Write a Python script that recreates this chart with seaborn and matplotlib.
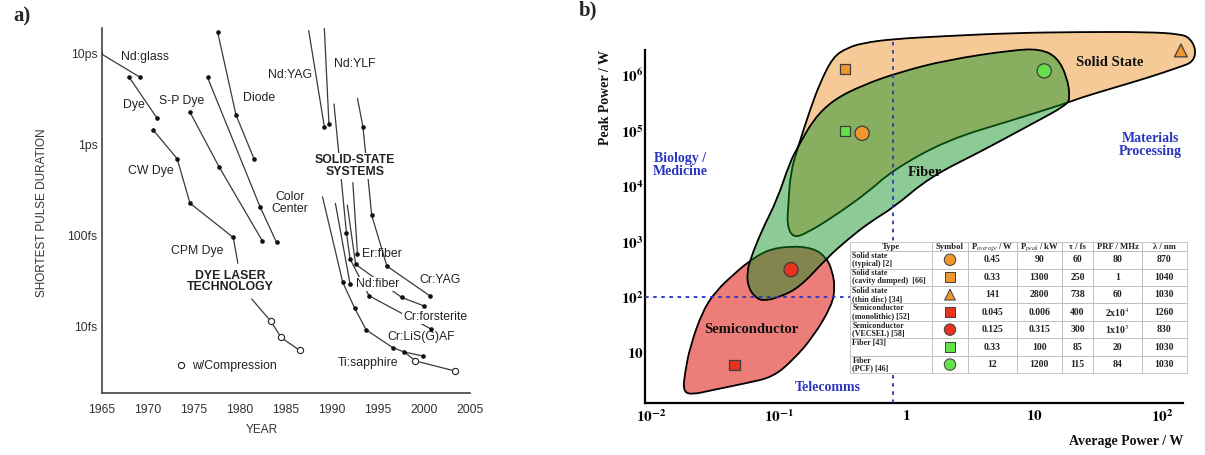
import numpy as np
import pandas as pd
import seaborn as sns
import matplotlib.pyplot as plt
from matplotlib.path import Path
from matplotlib.patches import PathPatch
from matplotlib.lines import Line2D
from matplotlib.ticker import NullLocator

# ==============================
# ==== Data: panel a) lines ====
# ==============================
# (year, shortest pulse duration in fs)
nd_glass = [(1964.8, 10000), (1969.2, 5400)]
dye = [(1968.0, 5400), (1971.0, 1940)]
cw_dye = [(1970.6, 1430), (1973.2, 693), (1974.6, 225), (1979.3, 95), (1979.8, 49.5)]
sp_dye = [(1974.6, 2240), (1977.75, 566), (1982.45, 87.5)]
color_center = [(1976.5, 5400), (1982.2, 207), (1984.0, 84)]
diode = [(1977.6, 17000), (1979.6, 2090), (1981.55, 693)]
nd_yag = [(1987.5, 17600), (1989.2, 1556)]
nd_ylf = [(1989.2, 18700), (1989.7, 1663)]
cr_lisaf = [(1990.25, 2760), (1991.6, 107), (1992.0, 55), (1994.05, 21.8), (2000.8, 9.4)]
cr_yag = [(1992.8, 3180), (1993.4, 1546), (1994.35, 166), (1996.0, 46.1), (2000.65, 21.8)]
ti_sapphire = [(1989.0, 265), (1991.2, 30.6), (1992.5, 15.9), (1993.75, 9.2),
               (1996.65, 5.87), (1997.9, 5.26), (1999.9, 4.76)]
nd_fiber = [(1990.4, 225), (1992.0, 29.1)]
er_fiber = [(1992.3, 378), (1992.8, 62.5)]
cr_forsterite = [(1991.7, 215), (1992.6, 48.2), (1997.6, 20.9), (2000.0, 16.9)]
dye_compressed = [(1981.3, 20.1), (1983.4, 11.4), (1984.5, 7.6), (1986.5, 5.5)]
ti_compressed = [(1997.9, 5.26), (1999.1, 4.2), (2003.4, 3.26)]

LINES = {
    "Nd:glass": nd_glass, "Dye": dye, "CW Dye": cw_dye, "S-P Dye": sp_dye,
    "Color Center": color_center, "Diode": diode, "Nd:YAG": nd_yag, "Nd:YLF": nd_ylf,
    "Cr:LiSAF": cr_lisaf, "Cr:YAG": cr_yag, "Ti:sapphire": ti_sapphire,
    "Nd:fiber": nd_fiber, "Er:fiber": er_fiber, "Cr:forsterite": cr_forsterite,
    "Dye compressed": dye_compressed, "Ti compressed": ti_compressed,
}
# points drawn without a dot / with an open circle
BARE = {"Nd:YAG": [0], "Nd:YLF": [0], "Cr:LiSAF": [0], "Cr:YAG": [0], "Ti:sapphire": [0],
        "Nd:fiber": [0], "Er:fiber": [0], "Cr:forsterite": [0], "CW Dye": [4],
        "Dye compressed": [0], "Ti compressed": [0]}
OPEN = {"Dye compressed": [1, 2, 3], "Ti compressed": [1, 2]}

YEAR_TICKS = [1965, 1970, 1975, 1980, 1985, 1990, 1995, 2000, 2005]
DUR_TICKS = [10, 100, 1000, 10000]
DUR_LABELS = ["10fs", "100fs", "1ps", "10ps"]

# ==============================
# ==== Data: panel b) table ====
# ==============================
SOURCE_TYPE = ["Solid state\n(typical) [2]", "Solid state\n(cavity dumped)  [66]",
               "Solid state\n(thin disc) [34]", "Semiconductor\n(monolithic) [52]",
               "Semiconductor\n(VECSEL) [58]", "Fiber [43]\n", "Fiber\n(PCF) [46]"]
P_AVG_W = [0.45, 0.33, 141, 0.045, 0.125, 0.33, 12]
P_PEAK_KW = [90, 1300, 2800, 0.006, 0.315, 100, 1200]
TAU_FS = [60, 250, 738, 400, 300, 85, 115]
PRF_MHZ = ["80", "1", "60", "2x10$^4$", "1x10$^3$", "20", "84"]
WAVELENGTH_NM = [870, 1040, 1030, 1260, 830, 1030, 1030]
SYMBOL_COLOR = ["orange", "orange", "orange", "red", "red", "green", "green"]
SYMBOL_SHAPE = ["o", "s", "^", "s", "o", "s", "o"]
HEADER = ["Type", "Symbol", "P$_{average}$ / W", "P$_{peak}$ / kW", "τ / fs", "PRF / MHz", "λ / nm"]

# region outlines, log10(average power / W), log10(peak power / W)
SOLID_STATE_OUTLINE = [(-0.849, 4.708), (-0.755, 5.375), (-0.677, 5.861), (-0.575, 6.330),
                       (-0.465, 6.492), (-0.340, 6.582), (-0.105, 6.654), (0.318, 6.708),
                       (0.835, 6.762), (1.359, 6.780), (1.884, 6.780), (2.142, 6.744),
                       (2.221, 6.672), (2.268, 6.456), (2.245, 6.240), (2.142, 6.150),
                       (1.884, 5.951), (1.618, 5.771), (1.359, 5.591), (1.258, 5.501),
                       (0.835, 5.195), (0.318, 4.834), (-0.105, 4.294), (-0.309, 3.879),
                       (-0.575, 3.447), (-0.778, 3.159), (-0.888, 3.068), (-0.935, 3.303),
                       (-0.925, 3.632), (-0.909, 4.234)]
FIBER_OUTLINE = [(-0.849, 4.708), (-0.731, 5.195), (-0.575, 5.555), (-0.340, 5.825),
                 (-0.050, 6.059), (0.318, 6.276), (0.835, 6.456), (1.046, 6.474),
                 (1.179, 6.330), (1.258, 5.969), (1.281, 5.609), (1.258, 5.465),
                 (0.968, 5.105), (0.576, 4.618), (0.185, 4.168), (-0.105, 3.609),
                 (-0.285, 3.357), (-0.465, 3.032), (-0.622, 2.708), (-0.833, 2.186),
                 (-0.990, 2.005), (-1.123, 1.932), (-1.186, 2.005), (-1.240, 2.186),
                 (-1.248, 2.438), (-1.225, 2.672), (-1.131, 3.213), (-1.013, 3.753),
                 (-0.912, 4.438)]
SEMICONDUCTOR_OUTLINE = [(-1.240, 2.636), (-1.092, 2.852), (-0.912, 2.924), (-0.731, 2.888),
                         (-0.630, 2.726), (-0.583, 2.495), (-0.559, 2.186), (-0.583, 1.854),
                         (-0.731, 1.285), (-0.888, 0.870), (-1.045, 0.564), (-1.248, 0.456),
                         (-1.514, 0.330), (-1.695, 0.240), (-1.749, 0.330), (-1.734, 0.636),
                         (-1.695, 1.105), (-1.593, 1.771), (-1.483, 2.132), (-1.358, 2.402)]

SPLIT_AVG_W = 0.78
SPLIT_PEAK_W = 100

PALETTE = {"orange": "#F0962E", "red": "#E8321F", "green": "#63E04A"}
BLUE = "#2A35C0"
SERIF = ["Liberation Serif", "DejaVu Serif"]


def smooth_outline(points):
    """ closed path through the midpoints, traced points used as bezier controls """
    pts = np.asarray(points, dtype=float)
    mids = (pts + np.roll(pts, -1, axis=0)) / 2
    verts = [mids[-1]]
    codes = [Path.MOVETO]
    for p, m in zip(pts, mids):
        verts += [p, m]
        codes += [Path.CURVE3, Path.CURVE3]
    verts.append(mids[-1])
    codes.append(Path.CLOSEPOLY)
    return Path(10 ** np.array(verts), codes)


sns.set_theme(style="white")
plt.rcParams['font.family'] = ['Liberation Sans', 'DejaVu Sans']
plt.rcParams['mathtext.fontset'] = 'stix'

fig = plt.figure(figsize=(12.05, 4.55), dpi=100)

# =================
# ==== Panel a ====
# =================
axL = fig.add_axes([101.7 / 1205, 62 / 455, 368 / 1205, 365 / 455])

rows = []
for name, pts in LINES.items():
    for i, (yr, fs) in enumerate(pts):
        if i in OPEN.get(name, []):
            kind = "open"
        elif i in BARE.get(name, []):
            kind = "none"
        else:
            kind = "filled"
        rows.append(dict(series=name, year=yr, fs=fs, mark=kind))
df = pd.DataFrame(rows)

axL.set_yscale("log")
sns.lineplot(data=df, x="year", y="fs", units="series", estimator=None, sort=False,
             color="#3a3a3a", lw=0.9, ax=axL, zorder=2)
sns.scatterplot(data=df[df["mark"] == "filled"], x="year", y="fs", color="#111111", s=11,
                linewidth=0, ax=axL, zorder=6)
sns.scatterplot(data=df[df["mark"] == "open"], x="year", y="fs", color="white",
                edgecolor="#222222", s=20, linewidth=0.8, ax=axL, zorder=6)

axL.set_xlim(1965, 2005)
axL.set_ylim(1.87, 18800)
axL.set_xticks(YEAR_TICKS)
axL.set_yticks(DUR_TICKS)
axL.set_yticklabels(DUR_LABELS)
axL.yaxis.set_minor_locator(NullLocator())
for s in ["top", "right"]:
    axL.spines[s].set_visible(False)
for s in ["left", "bottom"]:
    axL.spines[s].set_color("#444444")
    axL.spines[s].set_linewidth(1.2)
axL.tick_params(direction="in", length=4, width=1, color="#444444", labelsize=8.8,
                labelcolor="#333333")
axL.tick_params(axis="x", pad=8)
axL.tick_params(axis="y", pad=3)
axL.set_xlabel("YEAR", fontsize=8.5, color="#333333", va="top")
axL.xaxis.set_label_coords(0.436, -0.085)
axL.set_ylabel("SHORTEST PULSE DURATION", fontsize=8.5, color="#333333")
axL.yaxis.set_label_coords(-0.146, 0.493)

labels_a = [
    ("Nd:glass", 0.118, 0.921, "center", False, False),
    ("Dye", 0.088, 0.789, "center", False, False),
    ("S-P Dye", 0.218, 0.800, "center", False, False),
    ("CW Dye", 0.134, 0.608, "center", False, False),
    ("CPM Dye", 0.259, 0.389, "center", False, False),
    ("Diode", 0.427, 0.808, "center", False, False),
    ("Nd:YAG", 0.512, 0.871, "center", False, False),
    ("Nd:YLF", 0.688, 0.901, "center", False, False),
    ("Color\nCenter", 0.512, 0.521, "center", False, False),
    ("SOLID-STATE\nSYSTEMS", 0.688, 0.622, "center", True, True),
    ("DYE LASER\nTECHNOLOGY", 0.349, 0.305, "center", True, True),
    ("Er:fiber", 0.707, 0.381, "left", False, False),
    ("Nd:fiber", 0.691, 0.299, "left", False, True),
    ("Cr:YAG", 0.919, 0.310, "center", False, False),
    ("Cr:forsterite", 0.906, 0.208, "center", False, True),
    ("Cr:LiS(G)AF", 0.869, 0.153, "center", False, False),
    ("Ti:sapphire", 0.724, 0.083, "center", False, False),
]
for txt, fx, fy, ha, bold, box in labels_a:
    axL.text(fx, fy, txt, transform=axL.transAxes, ha=ha, va="center", fontsize=8.8,
             color="#222222", fontweight="bold" if bold else "normal", linespacing=0.95,
             zorder=5,
             bbox=dict(fc="white", ec="none", pad=0.6) if box else None)

comp_handle = Line2D([], [], marker="o", ls="none", mfc="white", mec="#222222", ms=4.5, mew=0.8)
axL.legend(handles=[comp_handle], labels=["w/Compression"], loc="center left",
           bbox_to_anchor=(0.200, 0.074), frameon=False, borderpad=0, borderaxespad=0,
           handlelength=1.0, handletextpad=0.4, prop=dict(size=8.8), labelcolor="#222222")

# =================
# ==== Panel b ====
# =================
axR = fig.add_axes([645 / 1205, 51.7 / 455, 555 / 1205, 378.3 / 455])
axR.set_xscale("log")
axR.set_yscale("log")
axR.set_xlim(10 ** -2.047, 10 ** 2.299)
axR.set_ylim(10 ** 0.090, 10 ** 6.906)

axR.add_patch(PathPatch(smooth_outline(SOLID_STATE_OUTLINE), fc="#F6CA97", ec="black",
                        lw=1.3, zorder=1))
axR.add_patch(PathPatch(smooth_outline(SEMICONDUCTOR_OUTLINE), fc="#EC7D78", ec="black",
                        lw=1.3, zorder=1.1))
axR.add_patch(PathPatch(smooth_outline(FIBER_OUTLINE), fc=(0.043, 0.57, 0.125, 0.47),
                        ec="black", lw=1.3, zorder=2))

axR.axvline(SPLIT_AVG_W, ymin=0, ymax=0.955, color=BLUE, lw=1.3, ls=(0, (2, 2.5)), zorder=3)
axR.plot([10 ** -2.047, 0.5], [SPLIT_PEAK_W, SPLIT_PEAK_W], color=BLUE, lw=1.3,
         ls=(0, (2, 2.5)), zorder=3)

sym = pd.DataFrame(dict(avg=P_AVG_W, peak=np.array(P_PEAK_KW) * 1000.0,
                        color=SYMBOL_COLOR, shape=SYMBOL_SHAPE, row=range(len(P_AVG_W))))
sns.scatterplot(data=sym, x="avg", y="peak", hue="color", style="shape", size="shape",
                palette=PALETTE, markers={"o": "o", "s": "s", "^": "^"},
                sizes={"o": 105, "s": 55, "^": 85}, edgecolor="#3d3d3d", linewidth=0.9,
                legend=False, ax=axR, zorder=4)

axR.set_xticks([1e-2, 1e-1, 1, 10, 100])
axR.set_xticklabels([r"$\mathbf{10^{-2}}$", r"$\mathbf{10^{-1}}$", r"$\mathbf{1}$",
                     r"$\mathbf{10}$", r"$\mathbf{10^{2}}$"])
axR.set_yticks([10, 1e2, 1e3, 1e4, 1e5, 1e6])
axR.set_yticklabels([r"$\mathbf{10}$", r"$\mathbf{10^{2}}$", r"$\mathbf{10^{3}}$",
                     r"$\mathbf{10^{4}}$", r"$\mathbf{10^{5}}$", r"$\mathbf{10^{6}}$"])
axR.xaxis.set_minor_locator(NullLocator())
axR.yaxis.set_minor_locator(NullLocator())
for s in ["top", "right"]:
    axR.spines[s].set_visible(False)
for s in ["left", "bottom"]:
    axR.spines[s].set_color("black")
    axR.spines[s].set_linewidth(1.6)
axR.spines["left"].set_bounds(10 ** 0.090, 10 ** 6.456)
axR.spines["bottom"].set_bounds(10 ** -2.047, 10 ** 2.166)
axR.tick_params(direction="in", length=6, width=1.5, color="black", labelsize=11,
                labelcolor="black")
axR.tick_params(axis="x", pad=4)
axR.tick_params(axis="y", pad=1)
axR.set_xlabel("")
axR.set_ylabel("")

txt_kw = dict(transform=axR.transAxes, ha="center", va="center", fontweight="bold",
              family=SERIF, linespacing=1.0, zorder=5)
axR.text(0.838, 0.900, "Solid State", fontsize=10.5, color="#111111", **txt_kw)
axR.text(0.505, 0.609, "Fiber", fontsize=10.5, color="#111111", **txt_kw)
axR.text(0.191, 0.194, "Semiconductor", fontsize=10.5, color="#111111", **txt_kw)
axR.text(0.063, 0.630, "Biology /\nMedicine", fontsize=10, color=BLUE, **txt_kw)
axR.text(0.910, 0.683, "Materials\nProcessing", fontsize=10, color=BLUE, **txt_kw)
axR.text(0.330, 0.043, "Telecomms", fontsize=10, color=BLUE, **txt_kw)
axR.text(-0.072, 0.808, "Peak Power / W", rotation=90, fontsize=10, color="#111111", **txt_kw)
axR.text(0.969, -0.100, "Average Power / W", fontsize=10, color="#111111",
         **{**txt_kw, "ha": "right"})

# table
tab_ax = fig.add_axes([850 / 1205, 81.7 / 455, 336.7 / 1205, 131 / 455])
tab_ax.axis("off")
cell_text = [[t, "", str(a), str(p), str(tau), prf, str(lam)]
             for t, a, p, tau, prf, lam in zip(SOURCE_TYPE, P_AVG_W, P_PEAK_KW, TAU_FS,
                                               PRF_MHZ, WAVELENGTH_NM)]
col_w = np.array([81.7, 36.6, 48.4, 45, 31.6, 48.4, 45])
table = tab_ax.table(cellText=cell_text, colLabels=HEADER, colWidths=list(col_w / col_w.sum()),
                     cellLoc="center", bbox=[0, 0, 1, 1])
table.auto_set_font_size(False)
for (r, c), cell in table.get_celld().items():
    cell.set_edgecolor("#BBBBBB")
    cell.set_linewidth(0.6)
    cell.set_facecolor("white")
    cell.set_height(0.5 if r == 0 else 1.0)
    t = cell.get_text()
    t.set_family(SERIF)
    t.set_fontweight("bold")
    t.set_color("#222222")
    t.set_linespacing(1.0)
    if r == 0:
        t.set_fontsize(6.2)
    elif c == 0:
        t.set_fontsize(5.8)
        t.set_horizontalalignment("left")
        cell._loc = "left"
        cell.PAD = 0.03
    else:
        t.set_fontsize(7)

sym_ax = fig.add_axes([931.7 / 1205, 81.7 / 455, 36.6 / 1205, 122.3 / 455])
sym["x"] = 0
sns.scatterplot(data=sym, x="x", y="row", hue="color", style="shape", size="shape",
                palette=PALETTE, markers={"o": "o", "s": "s", "^": "^"},
                sizes={"o": 68, "s": 48, "^": 60}, edgecolor="#3d3d3d", linewidth=0.7,
                legend=False, ax=sym_ax)
sym_ax.set_xlim(-1, 1)
sym_ax.set_ylim(6.5, -0.5)
sym_ax.axis("off")

fig.text(22 / 1205, 1 - 16 / 455, "a)", fontsize=15, fontweight="bold", family=SERIF,
         ha="center", va="center")
fig.text(588 / 1205, 1 - 10 / 455, "b)", fontsize=15, fontweight="bold", family=SERIF,
         ha="center", va="center")

fig.savefig("out.png", dpi=100)
